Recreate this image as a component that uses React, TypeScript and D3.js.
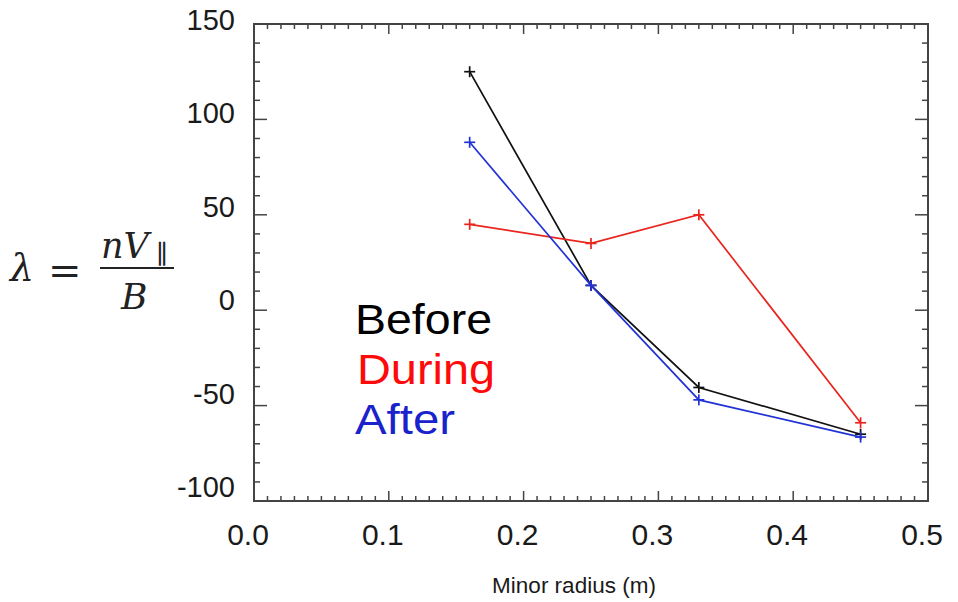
import React from "react";
import * as d3 from "d3";

const radius = [0.16, 0.25, 0.33, 0.45];
const before = [125, 13, -40.5, -65];
const during = [45, 35, 50, -59];
const after = [88, 13, -47, -66.5];
const xTicks = [0.0, 0.1, 0.2, 0.3, 0.4, 0.5];
const yTicks = [150, 100, 50, 0, -50, -100];
const legendLabels = ["Before", "During", "After"];

const W = 958, H = 602;
const L = 254, R = 928, T = 24, B = 501;

export default function App() {
  const x = d3.scaleLinear().domain([0, 0.5]).range([L, R]);
  const y = d3.scaleLinear().domain([-100, 150]).range([B, T]);
  const line = d3.line<[number, number]>().x(d => x(d[0])).y(d => y(d[1]));
  const series = [
    { vals: before, color: "#111111" },
    { vals: during, color: "#e8261e" },
    { vals: after, color: "#2233d6" },
  ];
  const legendColors = ["#000000", "#ff0a0a", "#1a22cc"];
  const legendWidths = [137, 138, 100];
  const xMinor = d3.range(0, 51).map(i => i / 100);
  const yMinor = d3.range(-100, 151, 10);
  const axisColor = "#444";
  const font = "'Liberation Sans', Arial, Helvetica, sans-serif";
  const serif = "'DejaVu Serif', 'Liberation Serif', serif";
  return (
    <svg width={W} height={H} style={{ position: "absolute", left: 0, top: 0, background: "#fff" }}>
      <rect x={0} y={0} width={W} height={H} fill="#fff" />
      <rect x={L} y={T} width={R - L} height={B - T} fill="none" stroke={axisColor} strokeWidth={2} />
      {xMinor.map((v, i) => {
        const major = i % 10 === 0;
        const len = major ? 10 : 5;
        return (
          <g key={"xt" + i}>
            <line x1={x(v)} x2={x(v)} y1={B} y2={B - len} stroke={axisColor} strokeWidth={1.5} />
            <line x1={x(v)} x2={x(v)} y1={T} y2={T + len} stroke={axisColor} strokeWidth={1.5} />
          </g>
        );
      })}
      {yMinor.map((v, i) => {
        const major = v % 50 === 0;
        const len = major ? 13 : 6;
        return (
          <g key={"yt" + i}>
            <line x1={L} x2={L + len} y1={y(v)} y2={y(v)} stroke={axisColor} strokeWidth={1.5} />
            <line x1={R} x2={R - len} y1={y(v)} y2={y(v)} stroke={axisColor} strokeWidth={1.5} />
          </g>
        );
      })}
      {xTicks.map((v, i) => (
        <text key={"xl" + i} x={x(v) - 6} y={545} textAnchor="middle" fontFamily={font} fontSize={30} fill="#1a1a1a">
          {v.toFixed(1)}
        </text>
      ))}
      {yTicks.map((v, i) => (
        <text key={"yl" + i} x={235} y={y(v) + 6 - (150 - v) * 0.04} textAnchor="end" fontFamily={font} fontSize={29} fill="#1a1a1a">
          {String(v)}
        </text>
      ))}
      <text x={574} y={593} textAnchor="middle" fontFamily={font} fontSize={22.5} fill="#1a1a1a">
        Minor radius (m)
      </text>
      <g fontFamily={serif} fill="#222">
        <text x={10} y={281} fontSize={38} fontStyle="italic">λ</text>
        <text x={48} y={284} fontSize={40}>=</text>
        <text x={101} y={258} fontSize={35} fontStyle="italic">nV</text>
        <text x={156} y={263} fontSize={26}>∥</text>
        <line x1={100} x2={174} y1={268} y2={268} stroke="#222" strokeWidth={2} />
        <text x={121} y={309} fontSize={36} fontStyle="italic">B</text>
      </g>
      {series.map((s, si) => {
        const pts: [number, number][] = radius.map((r, i) => [r, s.vals[i]]);
        return (
          <g key={"s" + si}>
            <path d={line(pts) || ""} fill="none" stroke={s.color} strokeWidth={1.7} />
            {pts.map((p, i) => (
              <g key={i} stroke={s.color} strokeWidth={1.7}>
                <line x1={x(p[0]) - 5.5} x2={x(p[0]) + 5.5} y1={y(p[1])} y2={y(p[1])} />
                <line x1={x(p[0])} x2={x(p[0])} y1={y(p[1]) - 5.5} y2={y(p[1]) + 5.5} />
              </g>
            ))}
          </g>
        );
      })}
      {legendLabels.map((t, i) => (
        <text key={"lg" + i} x={i === 1 ? 357 : 355} y={334 + i * 50} fontFamily={font} fontSize={43}
          fill={legendColors[i]} textLength={legendWidths[i]} lengthAdjust="spacingAndGlyphs">
          {t}
        </text>
      ))}
    </svg>
  );
}
